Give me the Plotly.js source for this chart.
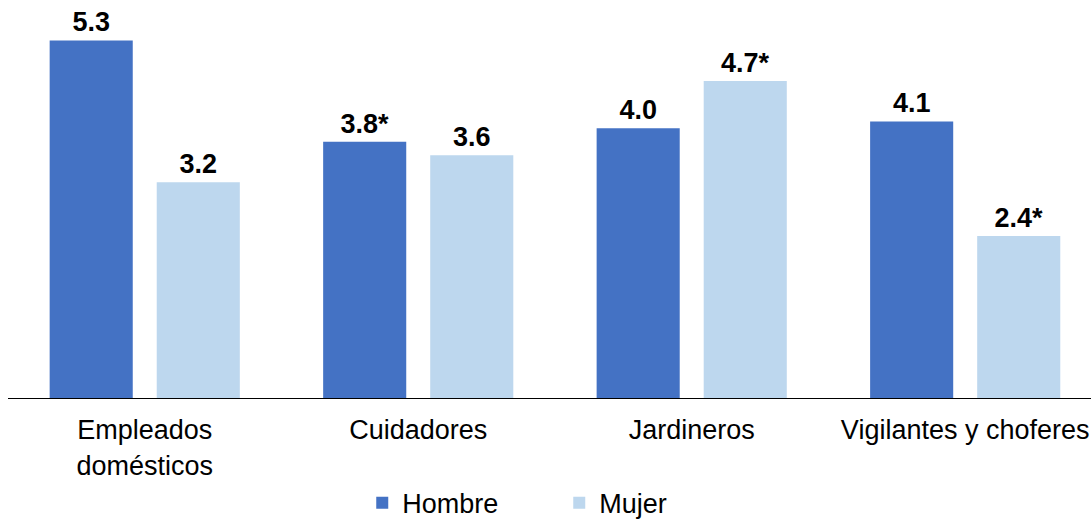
<!DOCTYPE html>
<html><head><meta charset="utf-8">
<script src="https://cdn.plot.ly/plotly-3.0.1.min.js"></script>
<style>html,body{margin:0;padding:0;background:#fff}#chart{width:1091px;height:519px}</style>
</head><body><div id="chart"></div>
<script>
const categories = ["Empleados<br>domésticos", "Cuidadores", "Jardineros", "Vigilantes y choferes"];
const hombreValues = [5.3, 3.8, 4.0, 4.1];
const mujerValues = [3.2, 3.6, 4.7, 2.4];
const hombreLabels = ["5.3", "3.8*", "4.0", "4.1"];
const mujerLabels = ["3.2", "3.6", "4.7*", "2.4*"];

const FAM = "Liberation Sans, Arial, sans-serif";
const labelFont = {family: FAM, size: 27, color: "#000"};
const traces = [
  {type: "bar", name: "Hombre", x: categories, y: hombreValues, text: hombreLabels,
   texttemplate: "<b>%{text}</b>", textposition: "outside", cliponaxis: false,
   textfont: labelFont, marker: {color: "#4472C4"}, hoverinfo: "skip"},
  {type: "bar", name: "Mujer", x: categories, y: mujerValues, text: mujerLabels,
   texttemplate: "<b>%{text}</b>", textposition: "outside", cliponaxis: false,
   textfont: labelFont, marker: {color: "#BDD7EE"}, hoverinfo: "skip"}
];
const layout = {
  width: 1091, height: 519,
  margin: {l: 8, r: 0, t: 0, b: 121, pad: 0, autoexpand: false},
  paper_bgcolor: "#fff", plot_bgcolor: "#fff",
  barmode: "group", bargap: 0.217, bargroupgap: 0.224,
  showlegend: true,
  legend: {orientation: "h", x: 0.509, xanchor: "center", y: -0.203, yanchor: "top",
           font: {family: FAM, size: 27, color: "#000"},
           entrywidth: 152, entrywidthmode: "pixels", traceorder: "normal"},
  xaxis: {type: "category", range: [-0.5, 3.46], showgrid: false, zeroline: false,
          showline: true, linecolor: "#000", linewidth: 1, ticks: "",
          ticklabelstandoff: 8,
          tickfont: {family: FAM, size: 27, color: "#000"}},
  yaxis: {range: [0, 5.9], visible: false, showgrid: false, zeroline: false},
  font: {family: FAM}
};
Plotly.newPlot("chart", traces, layout, {displayModeBar: false, staticPlot: true});
</script></body></html>
